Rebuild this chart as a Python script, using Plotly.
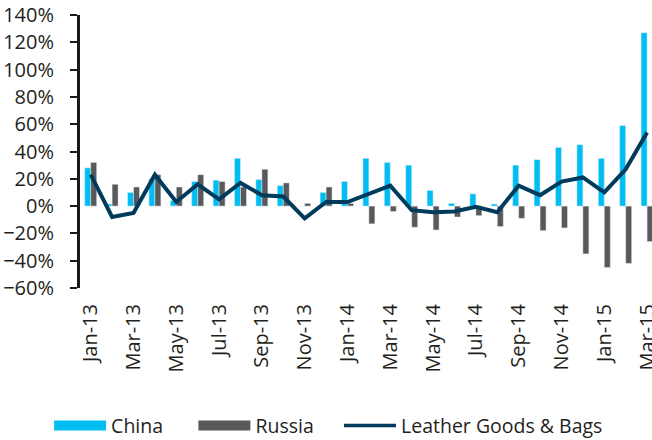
import plotly.graph_objects as go

months = ["Jan-13","Feb-13","Mar-13","Apr-13","May-13","Jun-13","Jul-13","Aug-13","Sep-13",
          "Oct-13","Nov-13","Dec-13","Jan-14","Feb-14","Mar-14","Apr-14","May-14","Jun-14",
          "Jul-14","Aug-14","Sep-14","Oct-14","Nov-14","Dec-14","Jan-15","Feb-15","Mar-15"]
china = [28, 1.5, 10, 20, 4, 18, 19, 35, 19.5, 15, 0, 10, 18, 35, 32, 30, 11.5, 2,
         9, 1.5, 30, 34, 43, 45, 35, 59, 127]
russia = [32, 16, 14, 23, 14, 23, 18, 14, 27, 17, 2, 14, 2, -13, -4, -15.5, -17.5, -8,
          -7, -15, -9, -18, -16, -35, -45, -42, -26]
leather = [23, -8, -5, 23, 3, 16, 5, 17, 8, 7, -9, 3, 3, 9, 15, -3, -4.5, -4,
           -0.5, -4.5, 15, 8, 18, 21, 10, 27, 54]

C_CHINA = "#00BDF2"
C_RUSSIA = "#58595B"
C_LINE = "#003B5C"
AX = "#1a1a1a"
TXT = "#231f20"
NB = "\u00a0"

fig = go.Figure()
fig.add_trace(go.Bar(x=months, y=china, marker_color=C_CHINA, name="China", showlegend=False))
fig.add_trace(go.Bar(x=months, y=russia, marker_color=C_RUSSIA, name="Russia", showlegend=False))
fig.add_trace(go.Scatter(x=months, y=leather, mode="lines", line=dict(color=C_LINE, width=4),
                         name="Leather Goods & Bags", showlegend=False))
# legend entries
fig.add_trace(go.Scatter(x=[None], y=[None], mode="lines", line=dict(color=C_CHINA, width=12),
                         name="China" + NB * 5))
fig.add_trace(go.Scatter(x=[None], y=[None], mode="lines", line=dict(color=C_RUSSIA, width=12),
                         name="Russia" + NB * 4))
fig.add_trace(go.Scatter(x=[None], y=[None], mode="lines", line=dict(color=C_LINE, width=3.5),
                         name="Leather Goods & Bags"))

xr = [-0.5, 26.23]
boundaries = [i + 1.5 for i in range(0, 26, 2)]

fig.update_layout(
    width=652, height=440,
    margin=dict(l=80, r=0, t=15, b=152, autoexpand=False),
    paper_bgcolor="white", plot_bgcolor="white",
    font=dict(family="Open Sans", size=20, color=TXT),
    barmode="group", bargap=0.44, bargroupgap=0,
    showlegend=True,
    legend=dict(orientation="h", x=-0.054, xanchor="left", y=-0.505, yanchor="middle",
                itemwidth=52, font=dict(size=19.5, color=TXT), traceorder="normal"),
    xaxis=dict(type="category", categoryorder="array", categoryarray=months,
               range=xr, tickmode="array", tickvals=months[::2], tickangle=-90,
               showline=False, ticks="", showgrid=False, zeroline=False,
               ticklabelstandoff=11, automargin=False),
    xaxis2=dict(type="linear", overlaying="x", anchor="free", position=0.3,
                range=xr, showline=True, linewidth=3, linecolor=AX,
                tickmode="array", tickvals=boundaries, ticks="outside", ticklen=7,
                tickwidth=2, tickcolor=AX, showticklabels=False, showgrid=False,
                zeroline=False),
    yaxis=dict(range=[-60, 140], dtick=20, tick0=0, ticksuffix="%", showgrid=False,
               zeroline=False, showline=True, linewidth=3, linecolor=AX,
               ticks="outside", ticklen=7, tickwidth=2, tickcolor=AX,
               ticklabelstandoff=12, automargin=False),
)
fig.write_html("out.html", config={"displayModeBar": False},
               post_script="document.body.style.margin='0px';")
